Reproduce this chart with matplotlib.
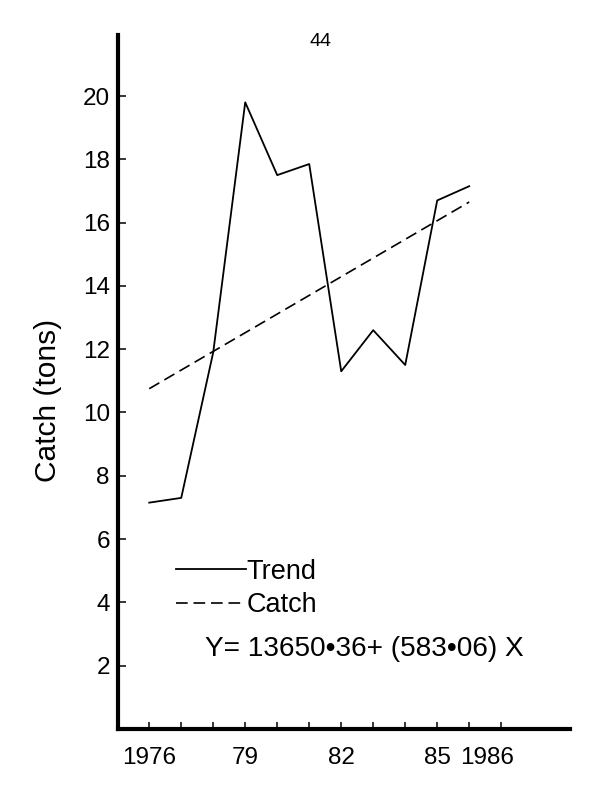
import matplotlib
matplotlib.use("Agg")
import matplotlib.pyplot as plt
from matplotlib.transforms import ScaledTranslation

plt.rcParams['font.family'] = ['Liberation Sans', 'DejaVu Sans']

# values
years = [1976, 1977, 1978, 1979, 1980, 1981, 1982, 1983, 1984, 1985, 1986]
catch = [7.15, 7.3, 11.9, 19.8, 17.5, 17.85, 11.3, 12.6, 11.5, 16.7, 17.15]
fit_years = [1976, 1986]
fit_vals = [10.75, 16.65]

tick_years = list(range(1976, 1988))
tick_labels = ['1976', '', '', '79', '', '', '82', '', '', '85', '1986', '']
y_ticks = [2, 4, 6, 8, 10, 12, 14, 16, 18, 20]

fig = plt.figure(figsize=(6, 7.94), dpi=100)
ax = fig.add_axes([0.197, 0.082, 0.753, 0.874])

ax.plot(years, catch, color='black', lw=1.3, label='Trend')
ax.plot(fit_years, fit_vals, color='black', lw=1.2, dashes=(7, 3.5), label='Catch')

ax.set_xlim(1975.03, 1989.15)
ax.set_ylim(0, 21.93)

for side in ['top', 'right']:
    ax.spines[side].set_visible(False)
for side in ['left', 'bottom']:
    ax.spines[side].set_linewidth(3)

ax.set_xticks(tick_years)
ax.set_xticklabels(tick_labels)
ax.set_yticks(y_ticks)
ax.tick_params(axis='both', direction='in', width=1.1, labelsize=17.5, color='black')
ax.tick_params(axis='y', length=6, pad=6)
ax.tick_params(axis='x', length=5, pad=13)

# the "1986" label sits just right of its tick in the original
lab = ax.get_xticklabels()[10]
lab.set_transform(lab.get_transform() + ScaledTranslation(0.18, 0, fig.dpi_scale_trans))

ax.set_ylabel('Catch (tons)', fontsize=21.5)
ax.yaxis.set_label_coords(-0.156, 0.473)
ax.yaxis.label.set_va('center')

leg = ax.legend(loc='upper left', bbox_to_anchor=(0.128, 0.245), frameon=False,
                fontsize=19.5, handlelength=2.6, handletextpad=0.0,
                labelspacing=0.27, borderpad=0, borderaxespad=0)

ax.text(1977.75, 2.53, 'Y= 13650\u202236+ (583\u202206) X', fontsize=20.2,
        ha='left', va='center')

fig.text(320 / 600, 1 - 41 / 794, '44', fontsize=14, ha='center', va='center')

fig.savefig('out.png', dpi=100)
